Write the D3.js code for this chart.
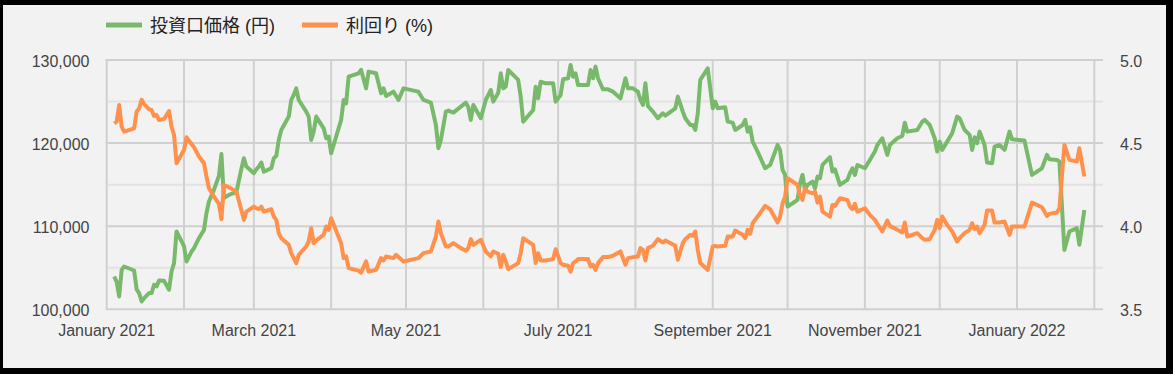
<!DOCTYPE html>
<html><head><meta charset="utf-8">
<script src="https://cdn.jsdelivr.net/npm/d3@7"></script>
<style>html,body{margin:0;padding:0;background:#000;}svg{display:block}</style>
</head><body><svg id="c" width="1173" height="374"></svg>
<script>
// ---- data ----
const seriesNames = ["投資口価格 (円)", "利回り (%)"];
const leftTicks = [100000, 110000, 120000, 130000];
const leftMinorTicks = [105000, 115000, 125000];
const rightTicks = [3.5, 4.0, 4.5, 5.0];
const monthLabels = ["2021-01-01","2021-03-01","2021-05-01","2021-07-01","2021-09-01","2021-11-01","2022-01-01"];
const priceData = [
["2021-01-04",103950],["2021-01-05",103300],["2021-01-06",101550],["2021-01-07",104750],["2021-01-08",105150],
["2021-01-12",104670],["2021-01-13",102400],["2021-01-14",101950],["2021-01-15",100940],["2021-01-16",101340],
["2021-01-18",101950],["2021-01-19",101950],["2021-01-20",102950],["2021-01-21",102750],["2021-01-22",103470],
["2021-01-24",103430],["2021-01-26",102350],["2021-01-27",104550],["2021-01-28",105550],["2021-01-29",109360],
["2021-02-01",107600],["2021-02-02",105750],["2021-02-03",106350],["2021-02-04",106950],["2021-02-05",107350],
["2021-02-07",108560],["2021-02-09",109560],["2021-02-10",111560],["2021-02-11",112970],["2021-02-13",114370],
["2021-02-15",116050],["2021-02-16",118700],["2021-02-17",113370],["2021-02-19",113770],["2021-02-22",114090],
["2021-02-24",116900],["2021-02-25",118180],["2021-02-26",117170],["2021-03-01",116370],["2021-03-02",116850],
["2021-03-03",117170],["2021-03-04",117660],["2021-03-05",116570],["2021-03-08",116970],["2021-03-09",118180],
["2021-03-10",118460],["2021-03-11",120380],["2021-03-12",121580],["2021-03-15",123190],["2021-03-16",125190],
["2021-03-17",125790],["2021-03-18",126590],["2021-03-19",125190],["2021-03-22",123790],["2021-03-23",123190],
["2021-03-24",120380],["2021-03-25",121380],["2021-03-26",123190],["2021-03-29",121780],["2021-03-30",120580],
["2021-03-31",120780],["2021-04-01",118780],["2021-04-05",122790],["2021-04-06",125190],["2021-04-07",124790],
["2021-04-08",127990],["2021-04-12",128400],["2021-04-13",128800],["2021-04-15",126590],["2021-04-16",128600],
["2021-04-19",128400],["2021-04-21",125990],["2021-04-22",126590],["2021-04-23",125670],["2021-04-26",126190],
["2021-04-28",125190],["2021-04-30",126590],["2021-05-06",126190],["2021-05-08",125190],["2021-05-11",124870],
["2021-05-13",122180],["2021-05-14",119380],["2021-05-15",120380],["2021-05-17",123790],["2021-05-18",123910],
["2021-05-20",123670],["2021-05-23",124390],["2021-05-25",124870],["2021-05-26",124310],["2021-05-27",122790],
["2021-05-28",124590],["2021-05-31",122990],["2021-06-02",125190],["2021-06-04",126390],["2021-06-05",124990],
["2021-06-07",126070],["2021-06-08",128400],["2021-06-09",126590],["2021-06-10",126790],["2021-06-11",128800],
["2021-06-15",127600],["2021-06-16",125590],["2021-06-17",122580],["2021-06-21",123990],["2021-06-22",126790],
["2021-06-23",125390],["2021-06-24",127390],["2021-06-26",127190],["2021-06-29",127190],["2021-06-30",124990],
["2021-07-02",125790],["2021-07-03",127680],["2021-07-05",127800],["2021-07-06",129400],["2021-07-07",127990],
["2021-07-08",128390],["2021-07-09",126990],["2021-07-13",126990],["2021-07-14",128800],["2021-07-15",127800],
["2021-07-16",129200],["2021-07-17",127800],["2021-07-19",126470],["2021-07-21",126470],["2021-07-23",126190],
["2021-07-26",125390],["2021-07-28",127800],["2021-07-29",126590],["2021-07-31",126590],["2021-08-02",126190],
["2021-08-03",125190],["2021-08-04",124590],["2021-08-05",127190],["2021-08-06",124470],["2021-08-08",123790],
["2021-08-10",122990],["2021-08-12",123590],["2021-08-13",123310],["2021-08-17",124190],["2021-08-18",125590],
["2021-08-20",123790],["2021-08-21",122990],["2021-08-23",122180],["2021-08-24",122180],["2021-08-25",121580],
["2021-08-26",123590],["2021-08-27",127600],["2021-08-30",128990],["2021-09-01",124190],["2021-09-02",124990],
["2021-09-03",124190],["2021-09-06",124310],["2021-09-07",122580],["2021-09-09",122460],["2021-09-10",121580],
["2021-09-13",122180],["2021-09-14",122790],["2021-09-15",121380],["2021-09-16",121900],["2021-09-17",120180],
["2021-09-19",118980],["2021-09-22",116970],["2021-09-24",117370],["2021-09-27",119780],["2021-09-28",119180],
["2021-09-29",116770],["2021-09-30",116170],["2021-10-01",112360],["2021-10-03",112760],["2021-10-05",113170],
["2021-10-06",115170],["2021-10-07",116170],["2021-10-08",114370],["2021-10-09",114970],["2021-10-11",115370],
["2021-10-12",114570],["2021-10-13",115970],["2021-10-14",115770],["2021-10-15",117370],["2021-10-18",118300],
["2021-10-19",116570],["2021-10-20",116850],["2021-10-22",114970],["2021-10-25",115570],["2021-10-26",116370],
["2021-10-27",116970],["2021-10-28",116170],["2021-10-29",117370],["2021-11-01",116970],["2021-11-03",117970],
["2021-11-05",118980],["2021-11-06",119780],["2021-11-08",120580],["2021-11-10",118580],["2021-11-11",119780],
["2021-11-14",120580],["2021-11-16",120860],["2021-11-17",122460],["2021-11-18",121380],["2021-11-22",121580],
["2021-11-24",122580],["2021-11-25",122790],["2021-11-27",122180],["2021-11-29",120580],["2021-11-30",118980],
["2021-12-01",120180],["2021-12-02",119180],["2021-12-04",120180],["2021-12-06",121180],["2021-12-08",123190],
["2021-12-09",122990],["2021-12-11",121580],["2021-12-13",120980],["2021-12-14",119180],["2021-12-15",120700],
["2021-12-16",119980],["2021-12-17",121380],["2021-12-19",119780],["2021-12-20",117660],["2021-12-22",117570],
["2021-12-23",119580],["2021-12-25",119780],["2021-12-27",119180],["2021-12-29",121380],["2021-12-30",120460],
["2022-01-04",120300],["2022-01-07",116170],["2022-01-09",116570],["2022-01-11",116970],["2022-01-13",118580],
["2022-01-14",118060],["2022-01-17",117980],["2022-01-18",117770],["2022-01-20",107150],["2022-01-22",109360],
["2022-01-25",109760],["2022-01-26",107760],["2022-01-28",111960]
];
const yieldData = [
["2021-01-04",4.619],["2021-01-05",4.629],["2021-01-06",4.729],["2021-01-07",4.599],["2021-01-08",4.569],
["2021-01-12",4.589],["2021-01-13",4.689],["2021-01-14",4.709],["2021-01-15",4.760],["2021-01-16",4.735],
["2021-01-18",4.703],["2021-01-19",4.699],["2021-01-20",4.663],["2021-01-21",4.669],["2021-01-22",4.639],
["2021-01-24",4.645],["2021-01-26",4.693],["2021-01-27",4.599],["2021-01-28",4.549],["2021-01-29",4.379],
["2021-02-01",4.459],["2021-02-02",4.535],["2021-02-03",4.515],["2021-02-04",4.495],["2021-02-05",4.475],
["2021-02-07",4.419],["2021-02-09",4.379],["2021-02-10",4.299],["2021-02-11",4.228],["2021-02-13",4.178],
["2021-02-15",4.134],["2021-02-16",4.042],["2021-02-17",4.248],["2021-02-19",4.234],["2021-02-22",4.208],
["2021-02-24",4.098],["2021-02-25",4.038],["2021-02-26",4.088],["2021-03-01",4.118],["2021-03-02",4.108],
["2021-03-03",4.102],["2021-03-04",4.118],["2021-03-05",4.088],["2021-03-08",4.102],["2021-03-09",4.058],
["2021-03-10",4.038],["2021-03-11",3.958],["2021-03-12",3.928],["2021-03-15",3.888],["2021-03-16",3.838],
["2021-03-17",3.808],["2021-03-18",3.778],["2021-03-19",3.828],["2021-03-22",3.878],["2021-03-23",3.908],
["2021-03-24",3.988],["2021-03-25",3.898],["2021-03-26",3.914],["2021-03-29",3.948],["2021-03-30",3.998],
["2021-03-31",3.978],["2021-04-01",4.048],["2021-04-05",3.898],["2021-04-06",3.808],["2021-04-07",3.818],
["2021-04-08",3.748],["2021-04-12",3.733],["2021-04-13",3.721],["2021-04-15",3.788],["2021-04-16",3.727],
["2021-04-19",3.737],["2021-04-21",3.808],["2021-04-22",3.794],["2021-04-23",3.818],["2021-04-26",3.808],
["2021-04-27",3.828],["2021-04-30",3.788],["2021-05-06",3.808],["2021-05-08",3.838],["2021-05-11",3.848],
["2021-05-13",3.938],["2021-05-14",4.028],["2021-05-15",3.958],["2021-05-17",3.878],["2021-05-18",3.878],
["2021-05-20",3.898],["2021-05-23",3.868],["2021-05-25",3.852],["2021-05-26",3.868],["2021-05-27",3.922],
["2021-05-28",3.888],["2021-05-31",3.918],["2021-06-02",3.848],["2021-06-04",3.818],["2021-06-05",3.848],
["2021-06-07",3.834],["2021-06-08",3.754],["2021-06-09",3.828],["2021-06-10",3.788],["2021-06-11",3.742],
["2021-06-15",3.778],["2021-06-16",3.838],["2021-06-17",3.928],["2021-06-21",3.888],["2021-06-22",3.778],
["2021-06-23",3.838],["2021-06-24",3.794],["2021-06-26",3.794],["2021-06-29",3.802],["2021-06-30",3.862],
["2021-07-02",3.778],["2021-07-03",3.768],["2021-07-05",3.762],["2021-07-06",3.727],["2021-07-07",3.778],
["2021-07-08",3.788],["2021-07-09",3.802],["2021-07-13",3.802],["2021-07-14",3.758],["2021-07-15",3.768],
["2021-07-16",3.737],["2021-07-17",3.778],["2021-07-19",3.814],["2021-07-21",3.814],["2021-07-23",3.822],
["2021-07-26",3.848],["2021-07-28",3.768],["2021-07-29",3.808],["2021-07-31",3.814],["2021-08-02",3.818],
["2021-08-03",3.868],["2021-08-04",3.858],["2021-08-05",3.794],["2021-08-06",3.868],["2021-08-08",3.882],
["2021-08-10",3.922],["2021-08-12",3.902],["2021-08-13",3.914],["2021-08-17",3.882],["2021-08-18",3.798],
["2021-08-20",3.898],["2021-08-21",3.922],["2021-08-23",3.948],["2021-08-24",3.942],["2021-08-25",3.968],
["2021-08-26",3.858],["2021-08-27",3.778],["2021-08-30",3.737],["2021-09-01",3.878],["2021-09-02",3.882],
["2021-09-03",3.878],["2021-09-06",3.882],["2021-09-07",3.938],["2021-09-09",3.938],["2021-09-10",3.974],
["2021-09-13",3.948],["2021-09-14",3.928],["2021-09-15",3.978],["2021-09-16",3.954],["2021-09-17",4.018],
["2021-09-19",4.058],["2021-09-22",4.122],["2021-09-24",4.102],["2021-09-27",4.022],["2021-09-28",4.058],
["2021-09-29",4.138],["2021-09-30",4.178],["2021-10-01",4.289],["2021-10-03",4.269],["2021-10-05",4.248],
["2021-10-06",4.188],["2021-10-07",4.158],["2021-10-08",4.228],["2021-10-09",4.208],["2021-10-11",4.198],
["2021-10-12",4.208],["2021-10-13",4.142],["2021-10-14",4.178],["2021-10-15",4.088],["2021-10-18",4.058],
["2021-10-19",4.128],["2021-10-20",4.122],["2021-10-22",4.168],["2021-10-25",4.158],["2021-10-26",4.118],
["2021-10-27",4.102],["2021-10-28",4.134],["2021-10-29",4.088],["2021-11-01",4.108],["2021-11-03",4.068],
["2021-11-05",4.038],["2021-11-06",4.014],["2021-11-08",3.968],["2021-11-10",4.034],["2021-11-11",4.002],
["2021-11-14",3.978],["2021-11-16",3.962],["2021-11-17",4.022],["2021-11-18",3.938],["2021-11-22",3.958],
["2021-11-24",3.928],["2021-11-25",3.918],["2021-11-27",3.922],["2021-11-29",3.978],["2021-11-30",4.038],
["2021-12-01",3.988],["2021-12-02",4.058],["2021-12-04",4.008],["2021-12-06",3.968],["2021-12-08",3.908],
["2021-12-09",3.928],["2021-12-11",3.958],["2021-12-13",3.978],["2021-12-14",4.018],["2021-12-15",3.982],
["2021-12-16",3.998],["2021-12-17",3.958],["2021-12-19",4.008],["2021-12-20",4.094],["2021-12-22",4.094],
["2021-12-23",4.022],["2021-12-25",4.022],["2021-12-27",4.028],["2021-12-29",3.948],["2021-12-30",3.998],
["2022-01-04",3.998],["2022-01-07",4.142],["2022-01-09",4.128],["2022-01-11",4.114],["2022-01-13",4.062],
["2022-01-14",4.074],["2022-01-17",4.082],["2022-01-18",4.108],["2022-01-20",4.489],["2022-01-22",4.399],
["2022-01-25",4.389],["2022-01-26",4.469],["2022-01-28",4.299]
];
const colors = ["#79b96b", "#ff914d"];

// ---- drawing ----
const parse = d3.utcParse("%Y-%m-%d");
const svg = d3.select("#c");
const W = 1173, H = 374;
svg.append("rect").attr("width", W).attr("height", H).attr("fill", "#000");
svg.append("rect").attr("x", 3).attr("y", 5).attr("width", 1163).attr("height", 363).attr("fill", "#f2f2f2");

const plotL = 106.7, plotR = 1103, plotT = 60, plotB = 309.3;
const x = d3.scaleUtc().domain([parse("2021-01-01"), parse("2022-02-05")]).range([plotL, plotL + 400 * 2.494]);
const yL = d3.scaleLinear().domain([100000, 130000]).range([plotB, plotT]);
const yR = d3.scaleLinear().domain([3.5, 5.0]).range([plotB, plotT]);

const font = "'Liberation Sans', Arial, 'Noto Sans CJK JP', sans-serif";

// minor horizontal gridlines
svg.append("g").selectAll("line").data(leftMinorTicks).join("line")
  .attr("x1", plotL).attr("x2", plotR)
  .attr("y1", d => yL(d)).attr("y2", d => yL(d))
  .attr("stroke", "#e2e2e2").attr("stroke-width", 2);
// vertical month gridlines
const months = d3.utcMonth.range(parse("2021-01-01"), parse("2022-02-02"));
svg.append("g").selectAll("line").data(months).join("line")
  .attr("x1", d => x(d)).attr("x2", d => x(d))
  .attr("y1", plotT).attr("y2", plotB)
  .attr("stroke", "#d0d0d0").attr("stroke-width", 2);
// major horizontal gridlines
svg.append("g").selectAll("line").data(leftTicks).join("line")
  .attr("x1", plotL - 1).attr("x2", plotR)
  .attr("y1", d => yL(d)).attr("y2", d => yL(d))
  .attr("stroke", "#d0d0d0").attr("stroke-width", 2);

// axis labels
const fmt = d3.format(",");
svg.append("g").selectAll("text").data(leftTicks).join("text")
  .attr("x", 89.5).attr("y", d => yL(d) + 6.5)
  .attr("text-anchor", "end").attr("font-family", font).attr("font-size", 16).attr("fill", "#444")
  .text(d => fmt(d));
svg.append("g").selectAll("text").data(rightTicks).join("text")
  .attr("x", 1120).attr("y", d => yR(d) + 6.5)
  .attr("text-anchor", "start").attr("font-family", font).attr("font-size", 16).attr("fill", "#444")
  .text(d => d.toFixed(1));
const mfmt = d3.utcFormat("%B %Y");
svg.append("g").selectAll("text").data(monthLabels).join("text")
  .attr("x", d => x(parse(d))).attr("y", 336)
  .attr("text-anchor", "middle").attr("font-family", font).attr("font-size", 16).attr("fill", "#444")
  .text(d => mfmt(parse(d)));

// lines
const lineL = d3.line().x(d => x(parse(d[0]))).y(d => yL(d[1]));
const lineR = d3.line().x(d => x(parse(d[0]))).y(d => yR(d[1]));
svg.append("path").attr("d", lineL(priceData)).attr("fill", "none")
  .attr("stroke", colors[0]).attr("stroke-width", 4).attr("stroke-linejoin", "round");
svg.append("path").attr("d", lineR(yieldData)).attr("fill", "none")
  .attr("stroke", colors[1]).attr("stroke-width", 4).attr("stroke-linejoin", "round");

// legend
const legendX = [106, 302];
const lg = svg.append("g");
seriesNames.forEach((name, i) => {
  lg.append("line").attr("x1", legendX[i]).attr("x2", legendX[i] + 36)
    .attr("y1", 25).attr("y2", 25).attr("stroke", colors[i]).attr("stroke-width", 5);
  lg.append("text").attr("x", legendX[i] + 44).attr("y", 31.5)
    .attr("font-family", font).attr("font-size", 18).attr("fill", "#222").text(name);
});
</script></body></html>
